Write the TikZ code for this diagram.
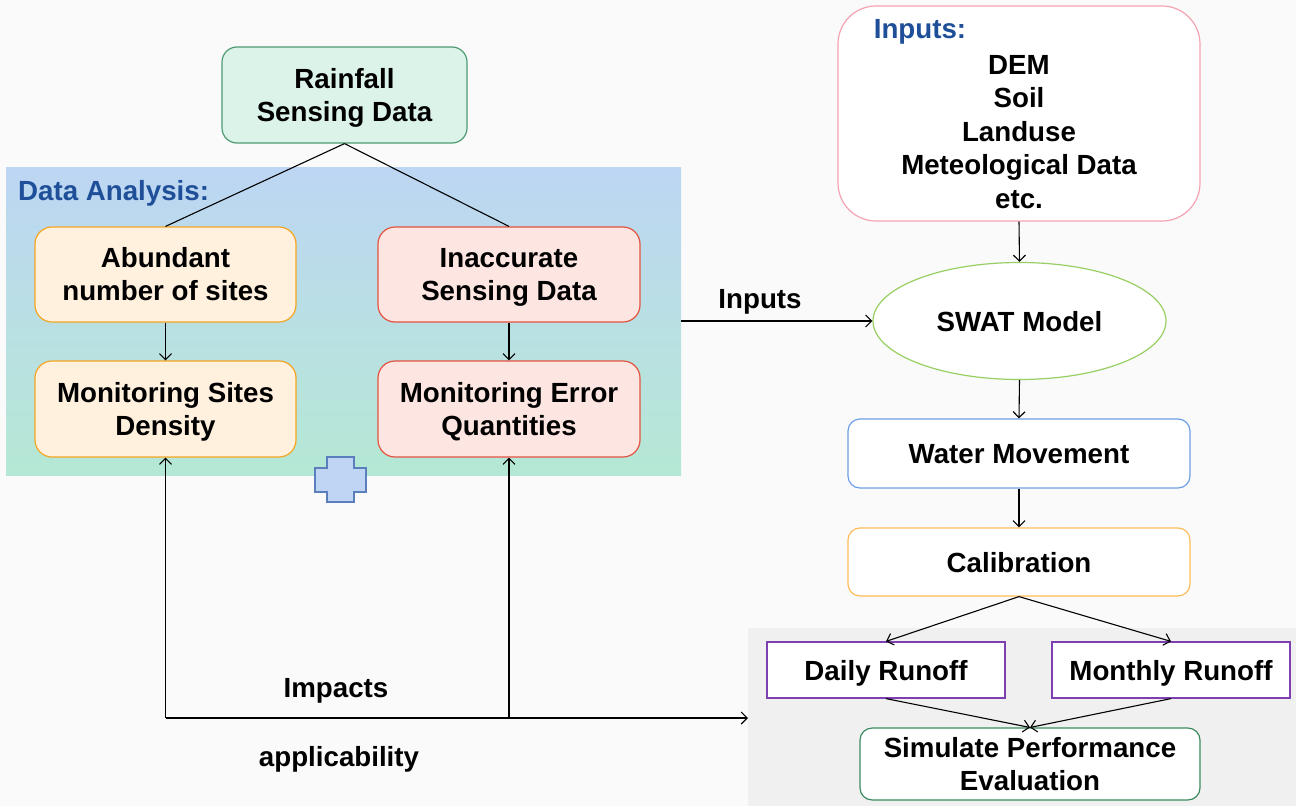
\documentclass[tikz,border=0pt]{standalone}
\usepackage{fontspec}
\setmainfont{Liberation Sans}
\usetikzlibrary{shapes.geometric,arrows.meta}
\definecolor{bgc}{HTML}{FAFAFA}
\definecolor{panelc}{HTML}{F0F0F0}
\definecolor{datop}{RGB}{189,214,243}
\definecolor{dabot}{RGB}{181,232,212}
\definecolor{rainfill}{HTML}{DCF3E9}
\definecolor{raindraw}{HTML}{4E9A72}
\definecolor{abfill}{HTML}{FFF1DE}
\definecolor{abdraw}{HTML}{F5A522}
\definecolor{infill}{HTML}{FDE5E1}
\definecolor{indraw}{HTML}{E3533F}
\definecolor{titleblue}{HTML}{1F4F98}
\definecolor{pinkdraw}{HTML}{F4A3B3}
\definecolor{elldraw}{HTML}{97CF62}
\definecolor{wmdraw}{HTML}{6E9FE6}
\definecolor{caldraw}{HTML}{FFBD59}
\definecolor{purpdraw}{HTML}{7E3FB0}
\definecolor{simdraw}{HTML}{3E8B62}
\definecolor{plusfill}{HTML}{BFD5F3}
\definecolor{plusdraw}{HTML}{5B7FBD}
\newcommand\twol[2]{\begin{tabular}{@{}c@{}}\rule{0pt}{29pt}#1\\#2\end{tabular}}
\begin{document}
\begin{tikzpicture}[x=1pt,y=-1pt,
  every node/.style={font=\fontsize{27.7}{33}\selectfont\bfseries, align=center, inner sep=0pt},
  one/.style={text height=23pt, text depth=3pt},
  box/.style={draw, line width=1.2pt, minimum width=#1},
  arr/.style={-{Straight Barb[length=6pt,width=12pt]}, line width=1.1pt},
  ln/.style={line width=1.1pt}]
\useasboundingbox (0,0) rectangle (1296,806);
\fill[bgc] (0,0) rectangle (1296,806);
\fill[panelc] (748,628) rectangle (1296,806);
% Data analysis area
\node[minimum width=675pt, minimum height=308pt, top color=datop, bottom color=dabot, anchor=north west] (da) at (6,167) {};
\node[one, anchor=west, text=titleblue] (datitle) at (18,190) {Data Analysis:};
% plus shape
\draw[fill=plusfill, draw=plusdraw, line width=1.5pt]
  (327,457) -- (354,457) -- (354,468) -- (366,468) -- (366,492) -- (354,492) -- (354,502)
  -- (327,502) -- (327,492) -- (315,492) -- (315,468) -- (327,468) -- cycle;
% left nodes
\node[box=245pt, minimum height=96pt, rounded corners=15pt, fill=rainfill, draw=raindraw] (rain) at (344.5,95) {\twol{Rainfall}{Sensing Data}};
\node[box=261pt, minimum height=95pt, rounded corners=17pt, fill=abfill, draw=abdraw] (ab) at (165.5,274.5) {\twol{Abundant}{number of sites}};
\node[box=262pt, minimum height=95pt, rounded corners=17pt, fill=infill, draw=indraw] (in) at (509,274.5) {\twol{Inaccurate}{Sensing Data}};
\node[box=261pt, minimum height=96pt, rounded corners=17pt, fill=abfill, draw=abdraw] (msd) at (165.5,409) {\twol{Monitoring Sites}{Density}};
\node[box=262pt, minimum height=96pt, rounded corners=17pt, fill=infill, draw=indraw] (meq) at (509,409) {\twol{Monitoring Error}{Quantities}};
\draw[ln] (rain.south) -- (ab.north);
\draw[ln] (rain.south) -- (in.north);
\draw[arr] (ab) -- (msd);
\draw[arr] (in) -- (meq);
% right column
\node[box=362pt, minimum height=215pt, rounded corners=38pt, fill=white, draw=pinkdraw] (inbox) at (1019,113.5) {};
\node[one, text=titleblue] (intitle) at (920,28) {Inputs:};
\node[anchor=north, font=\fontsize{27.7}{33.5}\selectfont\bfseries] (inlist) at (1019,55) {DEM\\Soil\\Landuse\\Meteological Data\\etc.};
\node[one, ellipse, draw=elldraw, line width=1.2pt, fill=white, minimum width=293pt, minimum height=117pt] (swat) at (1019.5,321) {SWAT Model};
\node[one, box=342pt, minimum height=69pt, rounded corners=12pt, fill=white, draw=wmdraw] (wm) at (1019,453.5) {Water Movement};
\node[one, box=342pt, minimum height=68pt, rounded corners=12pt, fill=white, draw=caldraw] (cal) at (1019,562) {Calibration};
\node[one, box=238pt, minimum height=56pt, fill=white, draw=purpdraw] (daily) at (886,670) {Daily Runoff};
\node[one, box=238pt, minimum height=56pt, fill=white, draw=purpdraw] (monthly) at (1171,670) {Monthly Runoff};
\node[box=340pt, minimum height=68pt, rounded corners=12pt, fill=white, draw=simdraw] (sim) at (1030,764) {\twol{Simulate Performance}{Evaluation}};
\draw[arr] (inbox.south) -- (swat.north);
\draw[arr] (swat.south) -- (wm.north);
\draw[arr] (wm) -- (cal);
\draw[arr] (cal.south) -- (daily.north);
\draw[arr] (cal.south) -- (monthly.north);
\draw[arr] (daily.south) -- (sim.north);
\draw[arr] (monthly.south) -- (sim.north);
% inputs arrow
\draw[arr] (da.east |- swat) -- (swat.west);
\node[one] (inputs) at (760,298) {Inputs};
% impacts
\coordinate (c1) at (165.5,718);
\coordinate (c2) at (509,718);
\coordinate (c3) at (748,718);
\draw[arr] (c1) -- (c3);
\draw[arr] (c1) -- (msd.south);
\draw[arr] (c2) -- (meq.south);
\node[one] (impacts) at (336,687) {Impacts};
\node[one] (appl) at (339,756) {applicability};
\end{tikzpicture}
\end{document}
